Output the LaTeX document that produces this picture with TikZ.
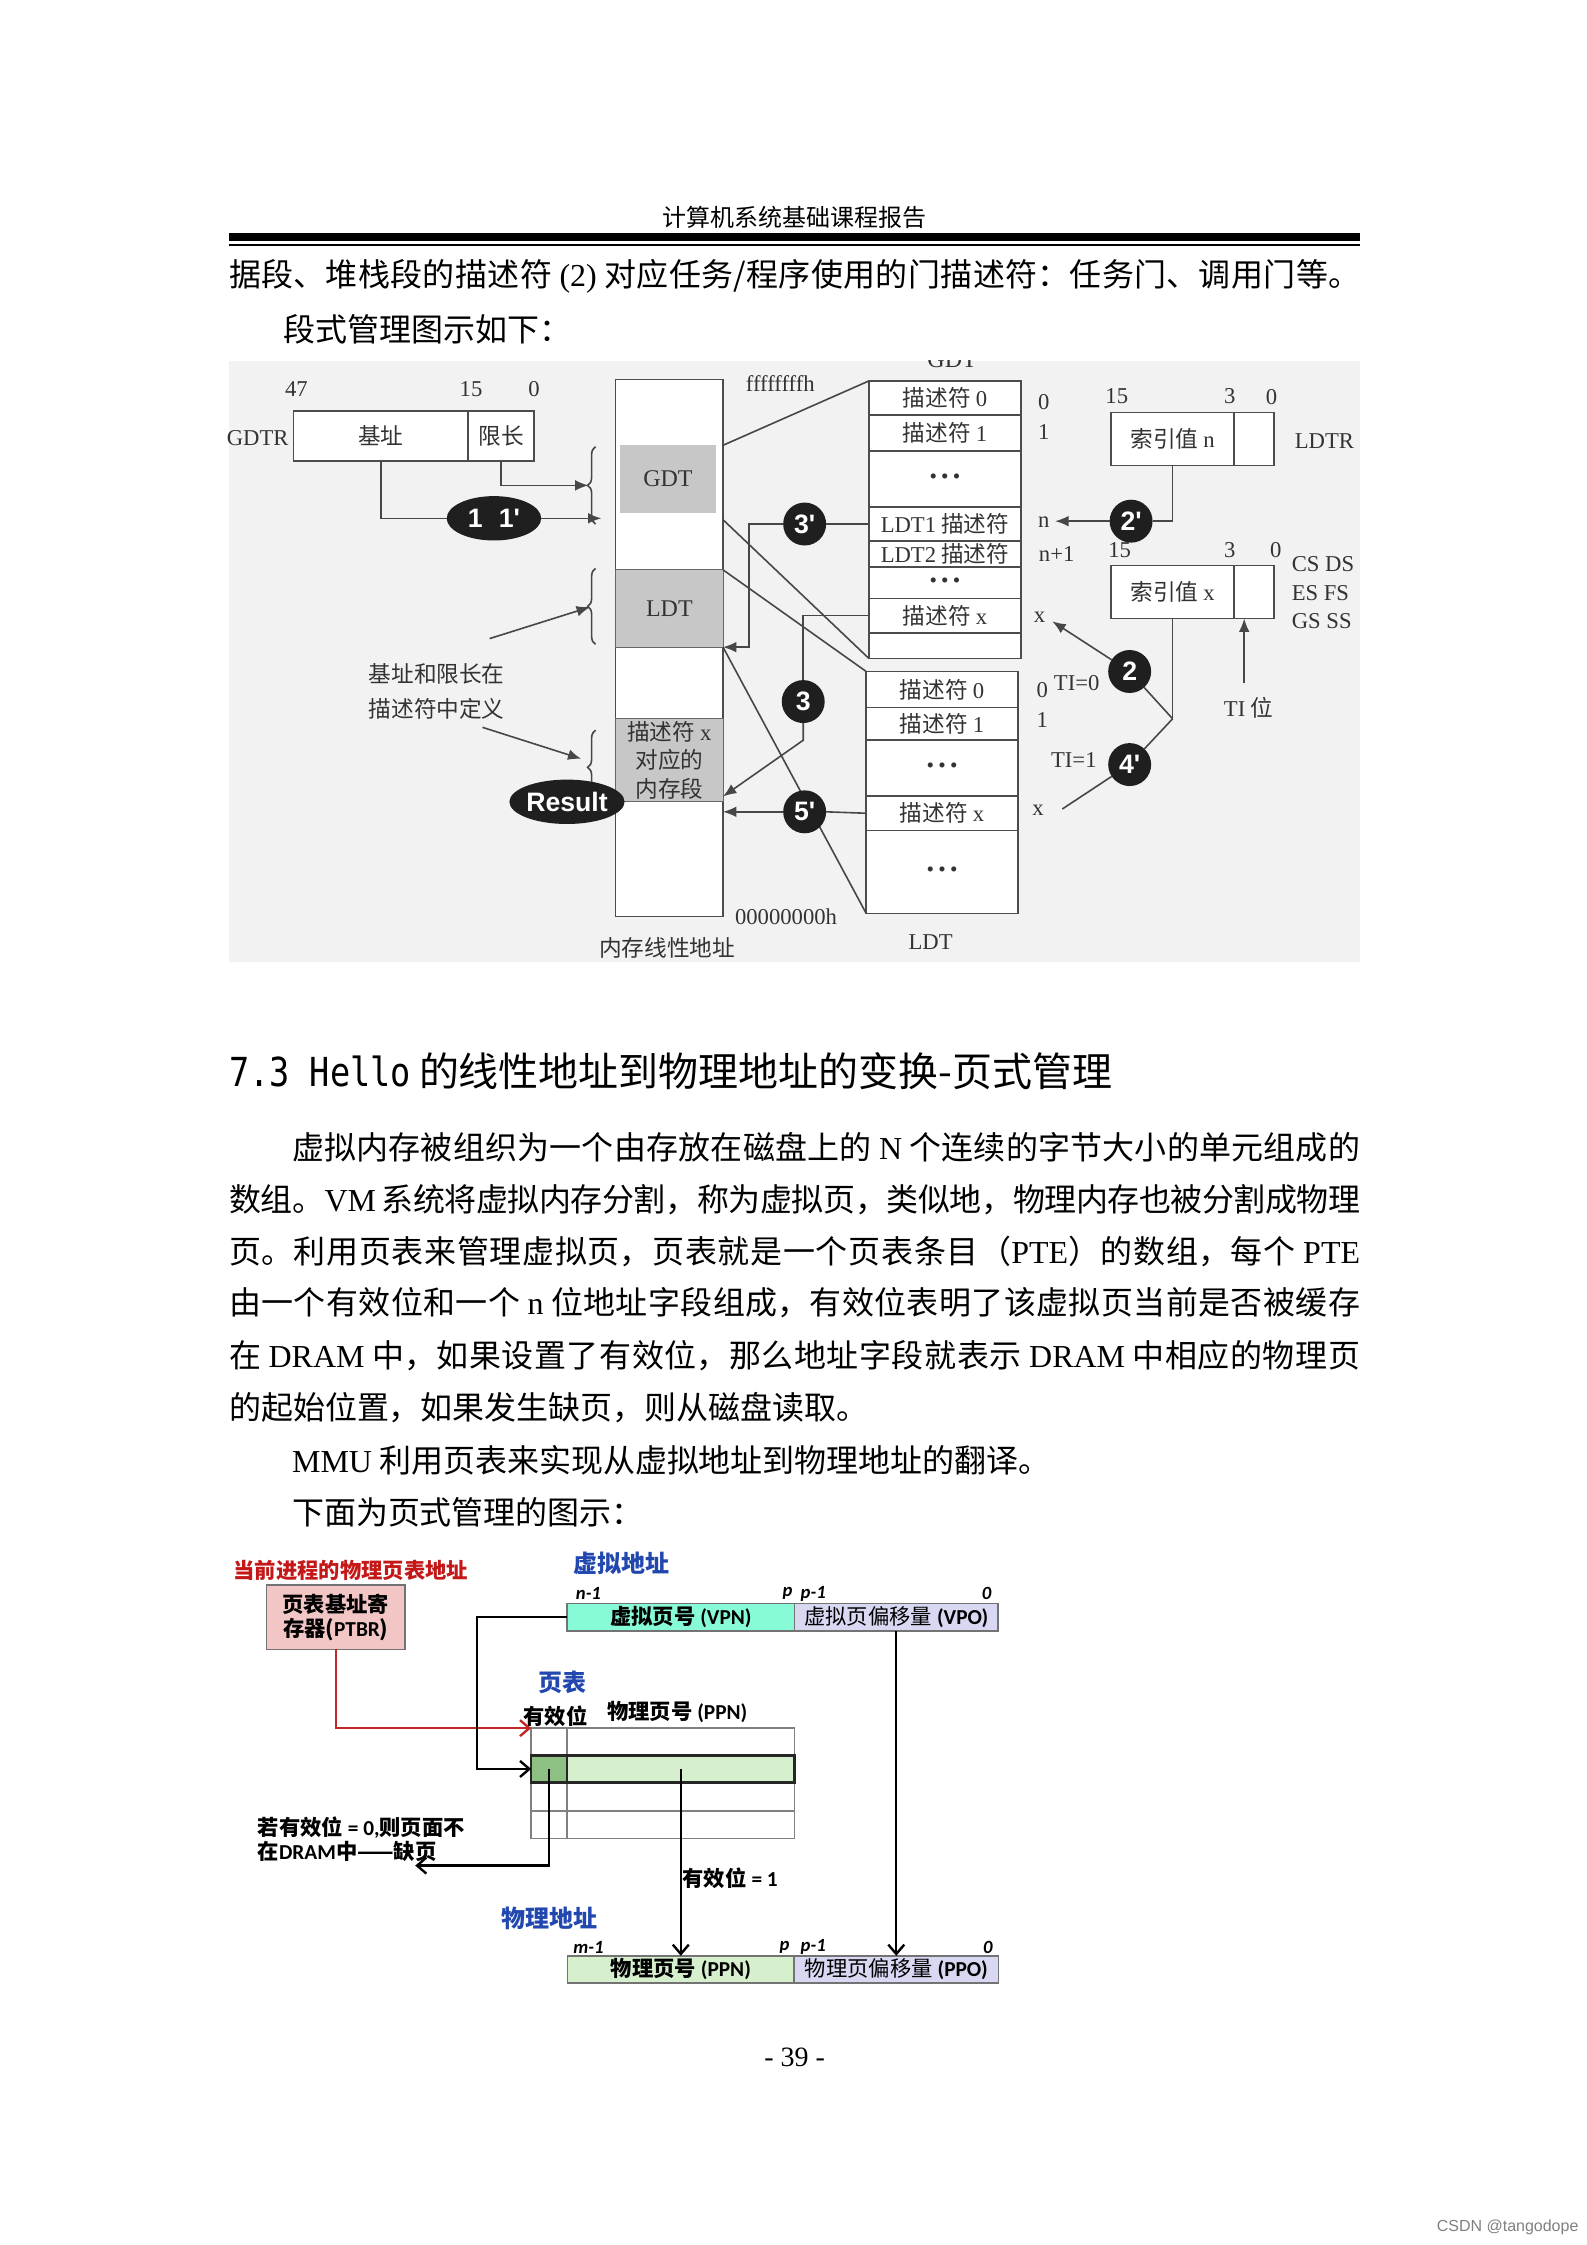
\documentclass[tikz,border=0pt]{standalone}
\usepackage{fontspec}
\setmainfont{Noto Sans CJK SC}
\newfontfamily\tnr{Liberation Serif}
\newfontfamily\arl{Liberation Sans}
\newfontfamily\carl{Carlito}
\newfontfamily\monohei[FakeStretch=0.84]{DejaVu Sans Mono}
\usetikzlibrary{shapes.geometric,decorations.pathreplacing,arrows.meta}
\XeTeXlinebreaklocale "zh"
\XeTeXlinebreakskip=0pt plus 2pt minus 0.3pt
\newcommand\px{0.53726pt}
\newcommand\tn[1]{{\tnr #1}}
\newcommand\cb[1]{{\carl\bfseries #1}}
\newcommand\jpar[1]{\parfillskip=0pt\relax\noindent #1\par}
\newcommand\tdots{{\fontsize{8}{8}\selectfont\tnr •\hspace{1.6pt}•\hspace{1.6pt}•}}
\definecolor{ptbrpink}{RGB}{243,198,198}
\definecolor{vpncyan}{RGB}{135,250,215}
\definecolor{vpolav}{RGB}{216,216,242}
\definecolor{ppngreen}{RGB}{214,240,206}
\definecolor{validgreen}{RGB}{142,192,132}
\definecolor{titlered}{RGB}{196,24,24}
\definecolor{arrowred}{RGB}{192,40,40}
\definecolor{titleblue}{RGB}{34,72,176}

\begin{document}
\begin{tikzpicture}[x=0.53726pt, y=-0.53726pt,
    every node/.style={inner sep=0pt, outer sep=0pt},
    bodytxt/.style={anchor=west, font=\fontsize{12}{14}\selectfont},
    jline/.style={anchor=west, text width=#1, align=justify, font=\fontsize{12}{14}\selectfont},
    scan/.style={font=\fontsize{8.5}{10}\selectfont, text=black!80},
    cellbox/.style={scan, draw=black!70, fill=white, line width=0.6pt},
    cell/.style={cellbox, minimum width=106*\px, minimum height=#1*\px},
    memblk/.style={scan, fill=black!22, font=\fontsize{9}{10.7}\selectfont\tnr, align=center},
    blob/.style={ellipse, fill=black!88, text=white, font=\fontsize{10}{12}\selectfont\arl\bfseries},
    numdot/.style={circle, fill=black!88, text=white, minimum size=30*\px, font=\fontsize{10}{12}\selectfont\arl\bfseries},
    wire/.style={draw=black!72, line width=0.6pt},
    warr/.style={wire, -{Latex[length=5pt,width=4pt]}},
    brc/.style={wire, decorate, decoration={brace, amplitude=3pt}},
    d2lab/.style={font=\fontsize{8}{9.1}\selectfont\bfseries},
    redtitle/.style={d2lab, text=titlered},
    bluetitle/.style={font=\fontsize{9}{10}\selectfont\bfseries, text=titleblue},
    bitlab/.style={font=\fontsize{7}{8}\selectfont\carl\bfseries\itshape},
    field/.style={draw=black!55, line width=0.6pt, minimum height=19*\px, d2lab},
    ptcell/.style={draw=black!50, line width=0.6pt, minimum height=19*\px},
    blkarr/.style={draw=black, line width=0.9pt, -{Straight Barb[length=3.5pt,width=6pt]}},
    redarr/.style={draw=arrowred, line width=0.9pt, -{Straight Barb[length=3.5pt,width=6pt]}}]

  \useasboundingbox (0,0) rectangle (1108,1568);

  % page text
  \node[font=\fontsize{9}{10}\selectfont] (hdr) at (555,152) {计算机系统基础课程报告};
  \draw[line width=2.7pt] (160,165.5) -- (950,165.5);
  \draw[line width=0.55pt] (160,171) -- (950,171);
  \node[jline=424.4pt] (t1) at (160,193) {\jpar{据段、堆栈段的描述符 \tn{(2)} 对应任务/程序使用的门描述符：任务门、调用门等。}};
  \node[bodytxt] (t2) at (198,230) {段式管理图示如下：};

  % segment diagram
  \fill[black!5] (160,252) rectangle (950,672);
  \begin{scope}
    \clip (160,252) rectangle (950,672);
    \node[scan, font=\fontsize{9}{10}\selectfont\tnr] (gdttitle) at (665,251) {GDT};
  \end{scope}

  \node[scan] (n47) at (207,272) {\tn{47}};
  \node[scan] (n15a) at (329,272) {\tn{15}};
  \node[scan] (n0a) at (373,272) {\tn{0}};
  \node[cellbox, minimum width=122*\px, minimum height=35*\px] (gbase) at (266,304.5) {基址};
  \node[cellbox, minimum width=46*\px, minimum height=35*\px] (glim) at (350,304.5) {限长};
  \node[scan] (gdtrlab) at (180,306) {\tn{GDTR}};

  \node[cellbox, minimum width=75*\px, minimum height=375*\px] (mem) at (467.5,452.5) {};
  \node[memblk, minimum width=67*\px, minimum height=47*\px] (mgdt) at (466.5,334.5) {GDT};
  \node[memblk, draw=black!60, minimum width=75*\px, minimum height=54*\px] (mldt) at (467.5,425) {LDT};
  \node[memblk, draw=black!60, minimum width=75*\px, minimum height=58*\px, font=\fontsize{8.5}{10.7}\selectfont] (mseg) at (467.5,531) {描述符 \tn{x}\\对应的\\内存段};
  \node[scan] (ffff) at (545,268) {\tn{ffffffffh}};
  \node[scan] (zero) at (549,640) {\tn{00000000h}};
  \node[scan] (memlab) at (466,662) {内存线性地址};

  \node[blob, minimum width=66*\px, minimum height=31*\px] (e11) at (345,362) {1\hspace{6pt}1'};
  \coordinate (gdtin) at (420,362);
  \coordinate (limin) at (411,339);
  \draw[wire] (gbase.south) |- (e11.west);
  \draw[warr] (e11.east) -- (gdtin);
  \draw[warr] (glim.south) |- (limin);
  \draw[brc] (416,366) -- (416,312);
  \draw[brc] (416,450) -- (416,397);
  \draw[brc] (416,562) -- (416,510);

  \node[scan, align=center, font=\fontsize{8.5}{12.9}\selectfont] (baselab) at (305,483) {基址和限长在\\描述符中定义};
  \coordinate (bl0) at (342,446);
  \coordinate (bl1) at (412,424);
  \coordinate (bl2) at (337,508);
  \coordinate (bl3) at (406,530);
  \draw[warr] (bl0) -- (bl1);
  \draw[warr] (bl2) -- (bl3);
  \node[blob, minimum width=70*\px, minimum height=31*\px] (res) at (396,560) {Result};

  \node[cell=24] (g0) at (660,278) {描述符 \tn{0}};
  \node[cell=25] (g1) at (660,302.5) {描述符 \tn{1}};
  \node[cell=39] (gd1) at (660,334.5) {\tdots};
  \node[cell=24] (gl1) at (660,366) {\tn{LDT1} 描述符};
  \node[cell=18] (gl2) at (660,387) {\tn{LDT2} 描述符};
  \node[cell=22] (gd2) at (660,407) {\tdots};
  \node[cell=24] (gx) at (660,430) {描述符 \tn{x}};
  \node[cell=18] (ge) at (660,451) {};

  \node[cell=25] (l0) at (658,481.5) {描述符 \tn{0}};
  \node[cell=23] (l1) at (658,505.5) {描述符 \tn{1}};
  \node[cell=39] (ld1) at (658,536.5) {\tdots};
  \node[cell=24] (lx) at (658,568) {描述符 \tn{x}};
  \node[cell=58] (ld2) at (658,609) {\tdots};
  \node[scan] (ldttitle) at (650,658) {\tn{LDT}};

  \node[scan] (gi0) at (729,281) {\tn{0}};
  \node[scan] (gi1) at (729,302) {\tn{1}};
  \node[scan] (gin) at (729,365) {\tn{n}};
  \node[scan] (gin1) at (738,387) {\tn{n+1}};
  \node[scan] (gix) at (726,431) {\tn{x}};
  \node[scan] (li0) at (728,482) {\tn{0}};
  \node[scan] (li1) at (728,503) {\tn{1}};
  \node[scan] (lix) at (725,566) {\tn{x}};

  \draw[wire] (mem.east |- mgdt.north) -- (g0.north west);
  \draw[wire] (mem.east |- 0,363) -- (ge.south west);
  \draw[wire] (mldt.north east) -- (l0.north west);
  \draw[wire] (mldt.south east) -- (ld2.south west);

  \node[numdot] (c3p) at (562,366) {3'};
  \node[numdot] (c3) at (561,490) {3};
  \node[numdot] (c5p) at (562,567) {5'};
  \draw[wire] (c3p.east) -- (gl1.west);
  \draw[warr] (c3p.west) -- ++(-24,0) |- (mldt.south east);
  \draw[wire] (gx.west) -| (c3.north);
  \draw[warr] (c3.south) -- ++(0,12) -- ([yshift=2pt]mseg.south east);
  \draw[wire] (lx.west) -- (c5p.east);
  \draw[warr] (c5p.west) -- (mem.east |- c5p);

  % selectors
  \node[scan] (n15b) at (780,277) {\tn{15}};
  \node[scan] (n3b) at (859,277) {\tn{3}};
  \node[scan] (n0b) at (888,277) {\tn{0}};
  \node[cellbox, minimum width=86*\px, minimum height=37*\px] (ldtri) at (819,306.5) {索引值 \tn{n}};
  \node[cellbox, minimum width=28*\px, minimum height=37*\px] (ldtrt) at (876,306.5) {};
  \node[scan] (ldtrlab) at (925,308) {\tn{LDTR}};

  \node[scan] (n15c) at (782,384) {\tn{15}};
  \node[scan] (n3c) at (859,384) {\tn{3}};
  \node[scan] (n0c) at (891,384) {\tn{0}};
  \node[cellbox, minimum width=86*\px, minimum height=37*\px] (seli) at (819,413.5) {索引值 \tn{x}};
  \node[cellbox, minimum width=28*\px, minimum height=37*\px] (selt) at (876,413.5) {};
  \node[scan, align=left, font=\fontsize{8.5}{10.7}\selectfont\tnr] (segregs) at (924,414) {CS DS\\ES FS\\GS SS};

  \node[numdot] (c2p) at (790,364) {2'};
  \node[numdot] (c2) at (789,469) {2};
  \node[numdot] (c4p) at (789,534) {4'};
  \coordinate (nptr) at (737,364);
  \coordinate (tij) at (819,502);
  \coordinate (gxptr) at (735,434);
  \coordinate (lxptr) at (742,565);
  \coordinate (tibit) at (869,477);
  \draw[wire] (ldtri.south) |- (c2p.east);
  \draw[warr] (c2p.west) -- (nptr);
  \draw[wire] (seli.south) -- (tij);
  \draw[wire] (tij) -- (c2);
  \draw[warr] (c2) -- (gxptr);
  \draw[wire] (tij) -- (c4p) -- (lxptr);
  \draw[warr] (tibit) -- (tibit |- selt.south);
  \node[scan] (ti0) at (752,477) {\tn{TI=0}};
  \node[scan] (ti1) at (750,531) {\tn{TI=1}};
  \node[scan] (tilab) at (872,494) {\tn{TI} 位};

  % section 7.3
  \node[anchor=west, font=\fontsize{15}{17}\selectfont] (sec) at (160,748) {{\monohei 7.3 Hello}\hspace{3pt}的线性地址到物理地址的变换-页式管理};
  \node[jline=400.8pt] (p1) at (204,801) {\jpar{虚拟内存被组织为一个由存放在磁盘上的 \tn{N} 个连续的字节大小的单元组成的}};
  \node[jline=424.4pt] (p2) at (160,838) {\jpar{数组。\tn{VM} 系统将虚拟内存分割，称为虚拟页，类似地，物理内存也被分割成物理}};
  \node[jline=424.4pt] (p3) at (160,874) {\jpar{页。利用页表来管理虚拟页，页表就是一个页表条目（\tn{PTE}）的数组，每个 \tn{PTE}}};
  \node[jline=424.4pt] (p4) at (160,910) {\jpar{由一个有效位和一个 \tn{n} 位地址字段组成，有效位表明了该虚拟页当前是否被缓存}};
  \node[jline=424.4pt] (p5) at (160,947) {\jpar{在 \tn{DRAM} 中，如果设置了有效位，那么地址字段就表示 \tn{DRAM} 中相应的物理页}};
  \node[bodytxt] (p6) at (160,983) {的起始位置，如果发生缺页，则从磁盘读取。};
  \node[bodytxt] (p7) at (204,1020) {\tn{MMU} 利用页表来实现从虚拟地址到物理地址的翻译。};
  \node[bodytxt] (p8) at (204,1056) {下面为页式管理的图示：};

  % page table diagram
  \node[redtitle] (ptbrtitle) at (245,1097) {当前进程的物理页表地址};
  \node[d2lab, draw=black!55, line width=0.6pt, fill=ptbrpink, minimum width=97*\px, minimum height=45*\px, align=center] (ptbr) at (234.5,1129.5) {页表基址寄\\存器(\cb{PTBR})};
  \node[bluetitle] (vatitle) at (434,1092) {虚拟地址};
  \node[bitlab] (vb1) at (411,1113) {n-1};
  \node[bitlab] (vb2) at (550,1113) {p};
  \node[bitlab] (vb3) at (568,1113) {p-1};
  \node[bitlab] (vb4) at (689,1113) {0};
  \node[field, fill=vpncyan, minimum width=159*\px] (vpn) at (475.5,1129.5) {虚拟页号 \cb{(VPN)}};
  \node[field, fill=vpolav, minimum width=142*\px] (vpo) at (626,1129.5) {{\mdseries 虚拟页偏移量} \cb{(VPO)}};

  \node[bluetitle] (pttitle) at (393,1175) {页表};
  \node[d2lab] (validlab) at (388,1199) {有效位};
  \node[d2lab] (ppnlab) at (473,1196) {物理页号 \cb{(PPN)}};
  \node[ptcell, minimum width=25*\px] (v1) at (383.5,1216.5) {};
  \node[ptcell, minimum width=159*\px] (p1c) at (475.5,1216.5) {};
  \node[ptcell, minimum width=25*\px] (v3) at (383.5,1255) {};
  \node[ptcell, minimum width=159*\px] (p3c) at (475.5,1255) {};
  \node[ptcell, minimum width=25*\px] (v4) at (383.5,1274.5) {};
  \node[ptcell, minimum width=159*\px] (p4c) at (475.5,1274.5) {};
  \node[ptcell, draw=black!85, line width=0.9pt, fill=validgreen, minimum width=25*\px] (v2) at (383.5,1235.5) {};
  \node[ptcell, draw=black!85, line width=0.9pt, fill=ppngreen, minimum width=159*\px] (p2c) at (475.5,1235.5) {};

  \draw[redarr] (ptbr.south) |- (v1.north west);
  \draw[blkarr] (vpn.west) -- ++(-63,0) |- (v2.west);

  \coordinate (missend) at (290,1303);
  \draw[blkarr] (v2.center) |- (missend);
  \node[d2lab, anchor=west, align=left] (misslab) at (180,1284.5) {若有效位 \cb{= 0,}则页面不\\在\cb{DRAM}中——缺页};
  \node[d2lab] (v1lab) at (510,1312) {有效位 \cb{= 1}};

  \node[bluetitle] (patitle) at (384,1340) {物理地址};
  \node[bitlab] (pb1) at (411,1360) {m-1};
  \node[bitlab] (pb2) at (548,1360) {p};
  \node[bitlab] (pb3) at (568,1360) {p-1};
  \node[bitlab] (pb4) at (690,1360) {0};
  \node[field, fill=ppngreen, minimum width=158*\px] (ppn) at (475.5,1375.5) {物理页号 \cb{(PPN)}};
  \node[field, fill=vpolav, minimum width=143*\px] (ppo) at (626,1375.5) {{\mdseries 物理页偏移量} \cb{(PPO)}};
  \draw[blkarr] (p2c.center) -- (ppn.north);
  \draw[blkarr] (vpo.south) -- (vpo.south |- ppo.north);

  \node[font=\fontsize{10.5}{12}\selectfont\tnr] (pageno) at (555,1437) {- 39 -};
  \node[font=\fontsize{6}{7}\selectfont\arl, text=black!50] (mark) at (1053,1556) {CSDN @tangodope};
\end{tikzpicture}
\end{document}
